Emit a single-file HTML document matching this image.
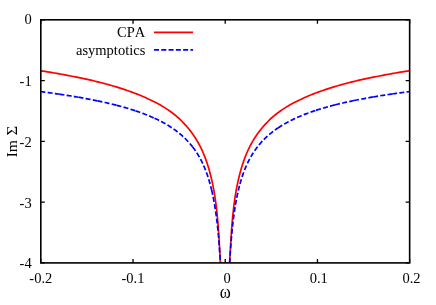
<!DOCTYPE html>
<html><head><meta charset="utf-8"><title>plot</title>
<style>html,body{margin:0;padding:0;background:#fff;}body{width:436px;height:305px;overflow:hidden;font-family:"Liberation Serif",serif;}svg{display:block;will-change:transform;}</style></head>
<body>
<svg width="436" height="305" viewBox="0 0 436 305">
<defs><clipPath id="c"><rect x="40.8" y="19.8" width="368.84999999999997" height="243.09999999999997"/></clipPath></defs>
<g clip-path="url(#c)" fill="none" stroke-linejoin="round">
<path d="M40.40,70.68 L42.74,71.05 L45.09,71.43 L47.43,71.82 L49.78,72.21 L52.12,72.61 L54.47,73.01 L56.81,73.42 L59.16,73.84 L61.50,74.26 L63.84,74.69 L66.19,75.13 L68.53,75.57 L70.88,76.02 L73.22,76.48 L75.57,76.94 L77.91,77.41 L80.25,77.89 L82.60,78.38 L84.94,78.88 L87.29,79.38 L89.63,79.91 L91.98,80.44 L94.32,80.99 L96.67,81.55 L99.01,82.12 L101.35,82.72 L103.70,83.33 L106.04,83.96 L108.39,84.61 L110.73,85.27 L113.08,85.96 L115.42,86.66 L117.76,87.38 L120.11,88.11 L122.45,88.87 L124.80,89.64 L127.14,90.44 L129.49,91.27 L131.83,92.12 L134.18,92.99 L136.52,93.90 L138.86,94.83 L141.21,95.80 L143.55,96.80 L145.90,97.83 L148.24,98.90 L150.59,100.01 L152.93,101.15 L155.27,102.33 L157.62,103.56 L159.96,104.85 L162.31,106.20 L164.65,107.63 L167.00,109.15 L169.34,110.75 L171.69,112.45 L174.03,114.26 L176.37,116.19 L178.72,118.24 L180.33,119.73 L181.89,121.25 L183.39,122.80 L184.84,124.35 L186.24,125.91 L187.59,127.48 L188.89,129.05 L190.15,130.63 L191.36,132.22 L192.53,133.82 L193.66,135.43 L194.75,137.06 L195.81,138.70 L196.82,140.36 L197.80,142.04 L198.75,143.74 L199.66,145.45 L200.54,147.18 L201.39,148.93 L202.21,150.69 L203.00,152.47 L203.76,154.27 L204.50,156.09 L205.21,157.92 L205.90,159.76 L206.56,161.63 L207.20,163.50 L207.82,165.40 L208.41,167.31 L208.98,169.24 L209.54,171.20 L210.07,173.17 L210.59,175.17 L211.09,177.19 L211.57,179.22 L212.03,181.28 L212.48,183.35 L212.91,185.45 L213.33,187.58 L213.73,189.74 L214.12,191.93 L214.49,194.15 L214.85,196.42 L215.20,198.74 L215.54,201.10 L215.87,203.50 L216.18,205.96 L216.48,208.47 L216.77,211.02 L217.05,213.62 L217.33,216.27 L217.59,218.97 L217.84,221.74 L218.09,224.70 L218.32,227.83 L218.55,231.09 L218.77,234.43 L218.98,237.81 L219.19,241.19 L219.38,244.51 L219.57,247.75 L219.76,250.85 L219.93,253.89 L220.11,256.95 L220.27,260.03 L220.43,263.11 L220.58,266.20 L220.73,269.29 L220.88,272.36 L221.01,275.41 L221.15,278.44 L221.28,281.47 L221.40,284.54 L221.52,287.64 L221.64,290.78 L221.75,293.96 L221.85,297.18 L221.96,300.43 L222.06,303.72 M227.99,303.72 L228.09,300.43 L228.20,297.18 L228.30,293.96 L228.41,290.78 L228.53,287.64 L228.65,284.54 L228.77,281.47 L228.90,278.44 L229.04,275.41 L229.17,272.36 L229.32,269.29 L229.47,266.20 L229.62,263.11 L229.78,260.03 L229.94,256.95 L230.12,253.89 L230.29,250.85 L230.48,247.75 L230.67,244.51 L230.86,241.19 L231.07,237.81 L231.28,234.43 L231.50,231.09 L231.73,227.83 L231.96,224.70 L232.21,221.74 L232.46,218.97 L232.72,216.27 L233.00,213.62 L233.28,211.02 L233.57,208.47 L233.87,205.96 L234.18,203.50 L234.51,201.10 L234.85,198.74 L235.20,196.42 L235.56,194.15 L235.93,191.93 L236.32,189.74 L236.72,187.58 L237.14,185.45 L237.57,183.35 L238.02,181.28 L238.48,179.22 L238.96,177.19 L239.46,175.17 L239.98,173.17 L240.51,171.20 L241.07,169.24 L241.64,167.31 L242.23,165.40 L242.85,163.50 L243.49,161.63 L244.15,159.76 L244.84,157.92 L245.55,156.09 L246.29,154.27 L247.05,152.47 L247.84,150.69 L248.66,148.93 L249.51,147.18 L250.39,145.45 L251.30,143.74 L252.25,142.04 L253.23,140.36 L254.24,138.70 L255.30,137.06 L256.39,135.43 L257.52,133.82 L258.69,132.22 L259.90,130.63 L261.16,129.05 L262.46,127.48 L263.81,125.91 L265.21,124.35 L266.66,122.80 L268.16,121.25 L269.72,119.73 L271.33,118.24 L273.68,116.19 L276.02,114.26 L278.36,112.45 L280.71,110.75 L283.05,109.15 L285.40,107.63 L287.74,106.20 L290.09,104.85 L292.43,103.56 L294.78,102.33 L297.12,101.15 L299.46,100.01 L301.81,98.90 L304.15,97.83 L306.50,96.80 L308.84,95.80 L311.19,94.83 L313.53,93.90 L315.87,92.99 L318.22,92.12 L320.56,91.27 L322.91,90.44 L325.25,89.64 L327.60,88.87 L329.94,88.11 L332.29,87.38 L334.63,86.66 L336.97,85.96 L339.32,85.27 L341.66,84.61 L344.01,83.96 L346.35,83.33 L348.70,82.72 L351.04,82.12 L353.38,81.55 L355.73,80.99 L358.07,80.44 L360.42,79.91 L362.76,79.38 L365.11,78.88 L367.45,78.38 L369.80,77.89 L372.14,77.41 L374.48,76.94 L376.83,76.48 L379.17,76.02 L381.52,75.57 L383.86,75.13 L386.21,74.69 L388.55,74.26 L390.89,73.84 L393.24,73.42 L395.58,73.01 L397.93,72.61 L400.27,72.21 L402.62,71.82 L404.96,71.43 L407.31,71.05 L409.65,70.68" stroke="#ff0000" stroke-width="1.7"/>
<g stroke="#0000ff" stroke-width="1.7" stroke-dasharray="5 2.29">
<path d="M40.40,91.59 L41.76,91.76 L43.12,91.94 L44.48,92.11 L45.83,92.29 L47.19,92.48 L48.55,92.66 L49.91,92.84 L51.27,93.03 L52.63,93.22 L53.99,93.41 L55.34,93.60 L56.70,93.80 L58.06,93.99 L59.42,94.19"/>
<path d="M59.42,94.19 L60.69,94.38 L61.96,94.57 L63.22,94.76 L64.49,94.95 L65.76,95.15 L67.03,95.35 L68.30,95.55 L69.56,95.75 L70.83,95.95 L72.10,96.16 L73.37,96.37 L74.64,96.58 L75.90,96.79 L77.17,97.01 L78.44,97.23"/>
<path d="M78.44,97.23 L79.71,97.45 L80.98,97.67 L82.24,97.90 L83.51,98.13 L84.78,98.36 L86.05,98.59 L87.32,98.83 L88.58,99.07 L89.85,99.31 L91.12,99.56 L92.39,99.81 L93.66,100.06 L94.92,100.32 L96.19,100.58 L97.46,100.84"/>
<path d="M97.46,100.84 L98.73,101.10 L100.00,101.37 L101.26,101.65 L102.53,101.92 L103.80,102.20 L105.07,102.49 L106.34,102.78 L107.60,103.07 L108.87,103.37 L110.14,103.67 L111.41,103.97 L112.68,104.28 L113.94,104.60 L115.21,104.92 L116.48,105.24"/>
<path d="M116.48,105.24 L117.75,105.57 L119.02,105.91 L120.28,106.25 L121.55,106.60 L122.82,106.95 L124.09,107.31 L125.36,107.67 L126.62,108.04 L127.89,108.42 L129.16,108.80 L130.43,109.19 L131.70,109.58 L132.96,109.99 L134.23,110.40 L135.50,110.82"/>
<path d="M135.50,110.82 L136.69,111.22 L137.88,111.63 L139.07,112.04 L140.25,112.46 L141.44,112.89 L142.63,113.33 L143.82,113.78 L145.01,114.24 L146.20,114.70 L147.39,115.18 L148.58,115.66 L149.76,116.15 L150.95,116.66 L152.14,117.17 L153.33,117.70 L154.52,118.24"/>
<path d="M154.52,118.24 L155.64,118.76 L156.76,119.29 L157.88,119.83 L159.00,120.38 L160.11,120.95 L161.23,121.53 L162.35,122.12 L163.47,122.73 L164.59,123.35 L165.71,123.99 L166.83,124.64 L167.95,125.31 L169.06,126.00 L170.18,126.71 L171.30,127.44 L172.42,128.18 L173.54,128.95"/>
<path d="M173.54,128.95 L174.49,129.62 L175.44,130.31 L176.39,131.02 L177.34,131.74 L178.29,132.48 L179.25,133.25 L180.20,134.03 L181.15,134.84 L182.10,135.68 L183.05,136.53 L184.00,137.42 L184.95,138.33 L185.90,139.27 L186.85,140.24 L187.81,141.24 L188.76,142.28 L189.71,143.36 L190.66,144.47 L191.61,145.63 L192.56,146.83"/>
<path d="M192.56,146.83 L193.06,147.49 L193.56,148.15 L194.06,148.83 L194.56,149.53 L195.06,150.24 L195.56,150.96 L196.06,151.71 L196.56,152.47 L197.06,153.24 L197.57,154.04 L198.07,154.86 L198.57,155.70 L199.07,156.56 L199.57,157.44 L200.07,158.34 L200.57,159.27 L201.07,160.23 L201.57,161.21 L202.07,162.22 L202.57,163.26 L203.07,164.33 L203.57,165.44 L204.07,166.58 L204.57,167.76 L205.07,168.98 L205.57,170.23 L206.07,171.54 L206.57,172.89 L207.08,174.29 L207.58,175.74 L208.08,177.25 L208.58,178.82 L209.08,180.46 L209.58,182.17 L210.08,183.95 L210.58,185.82 L211.08,187.78 L211.58,189.83"/>
<path d="M211.58,189.83 L211.73,190.45 L211.87,191.08 L212.02,191.72 L212.17,192.37 L212.31,193.03 L212.46,193.70 L212.61,194.38 L212.75,195.07 L212.90,195.77 L213.05,196.49 L213.19,197.21 L213.34,197.95 L213.49,198.70 L213.63,199.47 L213.78,200.25 L213.93,201.04 L214.07,201.84 L214.22,202.66 L214.37,203.50 L214.51,204.35 L214.66,205.22 L214.81,206.10 L214.95,207.01 L215.10,207.93 L215.25,208.86 L215.39,209.82 L215.54,210.80 L215.69,211.80 L215.83,212.82 L215.98,213.86 L216.13,214.92 L216.27,216.01 L216.42,217.13 L216.57,218.27 L216.71,219.44 L216.86,220.63 L217.01,221.86 L217.15,223.12 L217.30,224.41 L217.45,225.73 L217.59,227.09 L217.74,228.48 L217.89,229.92 L218.03,231.39 L218.18,232.91 L218.33,234.47 L218.47,236.08 L218.62,237.74 L218.77,239.46 L218.91,241.23 L219.06,243.06 L219.21,244.95 L219.35,246.91 L219.50,248.94 L219.65,251.04 L219.79,253.23 L219.94,255.50 L220.09,257.87 L220.23,260.33 L220.38,262.90"/>
<path d="M229.67,262.90 L229.83,260.13 L229.99,257.48 L230.14,254.95 L230.30,252.52 L230.46,250.19 L230.62,247.95 L230.78,245.80 L230.94,243.73 L231.10,241.73 L231.25,239.80 L231.41,237.94 L231.57,236.14 L231.73,234.40 L231.89,232.72 L232.05,231.09 L232.20,229.50 L232.36,227.97 L232.52,226.48 L232.68,225.03 L232.84,223.62 L233.00,222.25 L233.16,220.92 L233.31,219.62 L233.47,218.35 L233.63,217.12 L233.79,215.92 L233.95,214.74 L234.11,213.60 L234.26,212.48 L234.42,211.39 L234.58,210.32 L234.74,209.27 L234.90,208.25 L235.06,207.25 L235.22,206.27 L235.37,205.31 L235.53,204.38 L235.69,203.46 L235.85,202.55 L236.01,201.67 L236.17,200.80 L236.32,199.95 L236.48,199.12 L236.64,198.30 L236.80,197.50 L236.96,196.71 L237.12,195.93 L237.28,195.17 L237.43,194.42 L237.59,193.69 L237.75,192.96 L237.91,192.25 L238.07,191.55 L238.23,190.86 L238.38,190.19 L238.54,189.52 L238.70,188.86 L238.86,188.22 L239.02,187.58 L239.18,186.96 L239.34,186.34 L239.49,185.73 L239.65,185.13 L239.81,184.54 L239.97,183.96"/>
<path d="M239.97,183.96 L240.51,182.03 L241.06,180.18 L241.60,178.42 L242.14,176.73 L242.69,175.12 L243.23,173.57 L243.77,172.08 L244.32,170.64 L244.86,169.26 L245.40,167.93 L245.95,166.65 L246.49,165.41 L247.03,164.21 L247.58,163.06 L248.12,161.93 L248.66,160.85 L249.21,159.79 L249.75,158.77 L250.29,157.77 L250.84,156.81 L251.38,155.87 L251.92,154.96 L252.47,154.07 L253.01,153.20 L253.56,152.36 L254.10,151.54 L254.64,150.74 L255.19,149.95 L255.73,149.19 L256.27,148.44 L256.82,147.72 L257.36,147.00 L257.90,146.31 L258.45,145.63 L258.99,144.96"/>
<path d="M258.99,144.96 L259.94,143.83 L260.89,142.73 L261.84,141.68 L262.79,140.66 L263.74,139.67 L264.70,138.72 L265.65,137.80 L266.60,136.90 L267.55,136.03 L268.50,135.19 L269.45,134.37 L270.40,133.58 L271.35,132.81 L272.30,132.05 L273.25,131.32 L274.21,130.61 L275.16,129.91 L276.11,129.23 L277.06,128.57 L278.01,127.93"/>
<path d="M278.01,127.93 L279.13,127.19 L280.25,126.47 L281.37,125.77 L282.48,125.08 L283.60,124.42 L284.72,123.77 L285.84,123.14 L286.96,122.52 L288.08,121.92 L289.20,121.33 L290.32,120.76 L291.44,120.19 L292.55,119.64 L293.67,119.11 L294.79,118.58 L295.91,118.07 L297.03,117.56"/>
<path d="M297.03,117.56 L298.30,117.00 L299.57,116.46 L300.83,115.92 L302.10,115.40 L303.37,114.89 L304.64,114.39 L305.91,113.90 L307.17,113.42 L308.44,112.95 L309.71,112.49 L310.98,112.04 L312.25,111.60 L313.51,111.17 L314.78,110.74 L316.05,110.32"/>
<path d="M316.05,110.32 L317.32,109.91 L318.59,109.51 L319.85,109.12 L321.12,108.73 L322.39,108.35 L323.66,107.97 L324.93,107.60 L326.19,107.24 L327.46,106.88 L328.73,106.53 L330.00,106.19 L331.27,105.85 L332.53,105.51 L333.80,105.18 L335.07,104.86"/>
<path d="M335.07,104.86 L336.34,104.54 L337.61,104.23 L338.87,103.92 L340.14,103.61 L341.41,103.31 L342.68,103.02 L343.95,102.72 L345.21,102.44 L346.48,102.15 L347.75,101.87 L349.02,101.60 L350.29,101.32 L351.55,101.05 L352.82,100.79 L354.09,100.53"/>
<path d="M354.09,100.53 L355.36,100.27 L356.63,100.01 L357.89,99.76 L359.16,99.51 L360.43,99.27 L361.70,99.03 L362.97,98.79 L364.23,98.55 L365.50,98.32 L366.77,98.08 L368.04,97.86 L369.31,97.63 L370.57,97.41 L371.84,97.19 L373.11,96.97"/>
<path d="M373.11,96.97 L374.38,96.75 L375.65,96.54 L376.91,96.33 L378.18,96.12 L379.45,95.92 L380.72,95.71 L381.99,95.51 L383.25,95.31 L384.52,95.11 L385.79,94.92 L387.06,94.73 L388.33,94.53 L389.59,94.35 L390.86,94.16 L392.13,93.97"/>
<path d="M392.13,93.97 L393.48,93.78 L394.82,93.58 L396.17,93.39 L397.52,93.20 L398.87,93.02 L400.22,92.83 L401.56,92.65 L402.91,92.47 L404.26,92.29 L405.61,92.11 L406.95,91.93 L408.30,91.76 L409.65,91.59"/>
</g>
</g>
<path d="M40.80,262.9 v-4.0 M40.80,19.8 v4.0 M133.01,262.9 v-4.0 M133.01,19.8 v4.0 M225.22,262.9 v-4.0 M225.22,19.8 v4.0 M317.44,262.9 v-4.0 M317.44,19.8 v4.0 M409.65,262.9 v-4.0 M409.65,19.8 v4.0 M40.8,19.80 h4.0 M409.65,19.80 h-4.0 M40.8,80.57 h4.0 M409.65,80.57 h-4.0 M40.8,141.35 h4.0 M409.65,141.35 h-4.0 M40.8,202.12 h4.0 M409.65,202.12 h-4.0 M40.8,262.90 h4.0 M409.65,262.90 h-4.0" stroke="#000" stroke-width="1.3" fill="none"/>
<rect x="40.8" y="19.8" width="368.84999999999997" height="243.09999999999997" fill="none" stroke="#000" stroke-width="1.6"/>
<g font-family="'Liberation Serif', serif" font-size="14.5px" fill="#000" style="font-kerning:none">
<text x="40.80" y="282.9" text-anchor="middle" xml:space="preserve">-0.2</text>
<text x="133.01" y="282.9" text-anchor="middle" xml:space="preserve">-0.1</text>
<text x="225.22" y="282.9" text-anchor="middle" xml:space="preserve"> 0</text>
<text x="316.94" y="282.9" text-anchor="middle" xml:space="preserve"> 0.1</text>
<text x="409.65" y="282.9" text-anchor="middle" xml:space="preserve"> 0.2</text>
<text x="31.7" y="24.40" text-anchor="end">0</text>
<text x="31.7" y="86.37" text-anchor="end">-1</text>
<text x="31.7" y="146.85" text-anchor="end">-2</text>
<text x="31.7" y="207.62" text-anchor="end">-3</text>
<text x="31.7" y="267.70" text-anchor="end">-4</text>
<text transform="translate(225.2,297.5) scale(0.911,1)" font-size="18.4px" text-anchor="middle">ω</text>
<g transform="translate(16.8,157.35) rotate(-90)" font-size="15.5px"><text x="0" y="0">Im</text><text transform="translate(21.8,0) scale(1.075,1)">Σ</text></g>
<text x="145.3" y="36.65" text-anchor="end">CPA</text>
<text x="145.3" y="54.5" text-anchor="end">asymptotics</text>
</g>
<path d="M154,32.4 H193.1" stroke="#ff0000" stroke-width="1.7" fill="none"/>
<path d="M154,49.85 H193.1" stroke="#0000ff" stroke-width="1.7" stroke-dasharray="5 2.29" fill="none"/>
</svg>
</body></html>
